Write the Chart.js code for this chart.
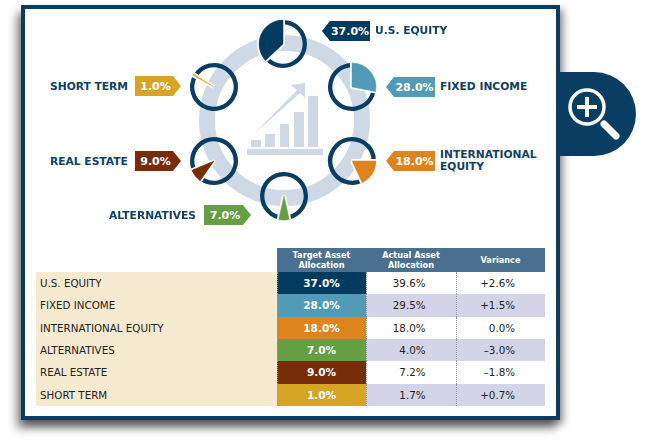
<!DOCTYPE html>
<html lang="en">
<head>
  <meta charset="UTF-8">
  <title>Target Asset Allocation</title>
  <script src="https://cdn.jsdelivr.net/npm/chart.js"></script>
  <style>
    html, body { margin: 0; padding: 0; background: #fff; overflow: hidden; }
    body { width: 650px; height: 445px; position: relative; font-family: "DejaVu Sans", sans-serif; }
    #card {
      position: absolute; left: 21px; top: 5px; width: 531px; height: 407px;
      background: #fff; border: 4px solid #0a3d62;
      box-shadow: -4px 8px 9px rgba(0,0,0,.5), 4px 4px 7px rgba(0,0,0,.35);
    }
    #tab {
      position: absolute; left: 560px; top: 72px; width: 76px; height: 84px;
      background: #0a3d62; border-radius: 0 42px 42px 0;
    }
    #tab svg, #icon { position: absolute; left: 0; top: 0; }
    #ring {
      position: absolute; left: 199px; top: 35px; width: 139px; height: 139px;
      border: 16px solid #cfd9e6; border-radius: 50%;
    }
    .pie { position: absolute; width: 60px; height: 60px; }
    .pie canvas { position: absolute; left: 0; top: 0; }
    #pie0 { left: 253px; top: 14px; }
    #pie1 { left: 322px; top: 57px; }
    #pie2 { left: 322px; top: 131px; }
    #pie3 { left: 254px; top: 166px; }
    #pie4 { left: 184px; top: 131px; }
    #pie5 { left: 184px; top: 57px; }

    .badge {
      position: absolute; height: 20px; line-height: 21px; color: #fff;
      font-weight: bold; font-size: 11px; text-align: center; box-sizing: border-box;
    }
    .left { clip-path: polygon(0 50%, 8px 0, 100% 0, 100% 100%, 8px 100%); padding-left: 8px; width: 49px; }
    .right { clip-path: polygon(0 0, calc(100% - 8px) 0, 100% 50%, calc(100% - 8px) 100%, 0 100%); padding-right: 5px; width: 46px; }
    #badge0 { left: 322px; top: 21px; width: 48px; }
    #badge1 { left: 386px; top: 77px; }
    #badge2 { left: 386px; top: 151px; }
    #badge3 { left: 204px; top: 205px; width: 47px; }
    #badge4 { left: 135px; top: 151px; }
    #badge5 { left: 135px; top: 76px; }

    .name {
      position: absolute; color: #0f4266; font-weight: bold; font-size: 10.7px;
      line-height: 12px; white-space: nowrap;
    }
    #name0 { left: 375px; top: 25px; }
    #name1 { left: 440px; top: 81px; }
    #name2 { left: 440px; top: 149px; }
    #name3 { left: 109px; top: 210px; }
    #name4 { left: 50px; top: 156px; }
    #name5 { left: 50px; top: 81px; }

    #tbl {
      position: absolute; left: 36px; top: 248px; width: 509px;
      border-collapse: collapse; table-layout: fixed;
      font-size: 10.3px; color: #222;
    }
    #tbl th {
      background: #4a7090; color: #fff; font-size: 8.2px; line-height: 9.5px;
      height: 24px; padding: 1px 0 0; box-sizing: border-box; font-weight: bold;
    }
    #tbl th.blank { background: transparent; }
    #tbl td { height: 22.33px; padding: 0; }
    #tbl td.cat { background: #f5ead0; padding-left: 4px; }
    #tbl td.target {
      color: #fff; font-weight: bold; font-size: 10.5px; text-align: center;
      border-left: 1px dotted #999;
    }
    #tbl td.num { text-align: right; padding-right: 30px; border-left: 1px dotted #999; }
    #tbl tr.even td.num { background: #d3d4e8; }
  </style>
</head>
<body>
  <div id="card"></div>

  <div id="tab">
    <svg width="76" height="84" fill="none" stroke="#fff">
      <circle cx="27" cy="35" r="17" stroke-width="3.5"/>
      <path d="M17 35H37M27 25V45" stroke-width="4"/>
      <path d="M44 52L56 64" stroke-width="7" stroke-linecap="round"/>
    </svg>
  </div>

  <div id="ring"></div>
  <svg id="icon" width="650" height="445" fill="#cfd9e6">
    <rect x="247" y="149" width="76" height="6"/>
    <rect x="251" y="140" width="10" height="7"/>
    <rect x="265" y="134" width="10" height="13"/>
    <rect x="280" y="124" width="9" height="23"/>
    <rect x="294" y="112" width="10" height="35"/>
    <rect x="308" y="96" width="10" height="51"/>
    <path d="M254 134L297 90L291 85L305 83L305 98L300 93Z"/>
  </svg>

  <div class="pie" id="pie0"></div>
  <div class="pie" id="pie1"></div>
  <div class="pie" id="pie2"></div>
  <div class="pie" id="pie3"></div>
  <div class="pie" id="pie4"></div>
  <div class="pie" id="pie5"></div>

  <div class="badge left" id="badge0"></div>
  <div class="badge left" id="badge1"></div>
  <div class="badge left" id="badge2"></div>
  <div class="badge right" id="badge3"></div>
  <div class="badge right" id="badge4"></div>
  <div class="badge right" id="badge5"></div>

  <div class="name" id="name0"></div>
  <div class="name" id="name1"></div>
  <div class="name" id="name2"></div>
  <div class="name" id="name3"></div>
  <div class="name" id="name4"></div>
  <div class="name" id="name5"></div>

  <table id="tbl">
    <colgroup>
      <col style="width:241px"><col style="width:89px"><col style="width:90px"><col style="width:89px">
    </colgroup>
    <thead>
      <tr>
        <th class="blank"></th>
        <th>Target Asset<br>Allocation</th>
        <th>Actual Asset<br>Allocation</th>
        <th>Variance</th>
      </tr>
    </thead>
    <tbody id="rows"></tbody>
  </table>

  <script>
    const categories = ["U.S. EQUITY", "FIXED INCOME", "INTERNATIONAL EQUITY", "ALTERNATIVES", "REAL ESTATE", "SHORT TERM"];
    const targetPct = [37.0, 28.0, 18.0, 7.0, 9.0, 1.0];
    const actualPct = [39.6, 29.5, 18.0, 4.0, 7.2, 1.7];
    const varianceLabels = ["+2.6%", "+1.5%", "0.0%", "\u20133.0%", "\u20131.8%", "+0.7%"];
    const colors = ["#033a60", "#519bb7", "#de841f", "#659f43", "#772d0a", "#d6a526"];
    // angle where each wedge starts, clockwise from 12 o'clock
    const rotations = [226.8, 0, 90, 167.4, 215, 299];

    const NAVY = "#0a3d62";

    // one pie is three stacked charts: the thin ring, a white halo, the wedge
    function addLayer(i, background, rest, borderColor, border, cutout) {
      const canvas = document.createElement("canvas");
      canvas.width = 60;
      canvas.height = 60;
      document.getElementById("pie" + i).appendChild(canvas);
      new Chart(canvas, {
        type: "doughnut",
        data: {
          labels: [categories[i], "Rest"],
          datasets: [{
            data: [targetPct[i], 100 - targetPct[i]],
            backgroundColor: [background, rest],
            borderColor: [borderColor, "transparent"],
            borderWidth: [border, 0]
          }]
        },
        options: {
          responsive: false,
          animation: false,
          radius: 24,
          cutout: cutout,
          rotation: rotations[i],
          plugins: { legend: { display: false }, tooltip: { enabled: false } }
        }
      });
    }

    categories.forEach((name, i) => {
      addLayer(i, "transparent", NAVY, "transparent", 0, "82%");
      addLayer(i, "#fff", "transparent", "#fff", 4, 0);
      addLayer(i, colors[i], "transparent", colors[i], 0.5, 0);

      const badge = document.getElementById("badge" + i);
      badge.innerText = targetPct[i].toFixed(1) + "%";
      badge.style.background = colors[i];

      const label = document.getElementById("name" + i);
      label.innerHTML = name === "INTERNATIONAL EQUITY" ? "INTERNATIONAL<br>EQUITY" : name;

      const tr = document.createElement("tr");
      if (i % 2 === 1) tr.className = "even";
      tr.innerHTML =
        '<td class="cat">' + name + "</td>" +
        '<td class="target" style="background:' + colors[i] + '">' + targetPct[i].toFixed(1) + "%</td>" +
        '<td class="num">' + actualPct[i].toFixed(1) + "%</td>" +
        '<td class="num">' + varianceLabels[i] + "</td>";
      document.getElementById("rows").appendChild(tr);
    });
  </script>
</body>
</html>
